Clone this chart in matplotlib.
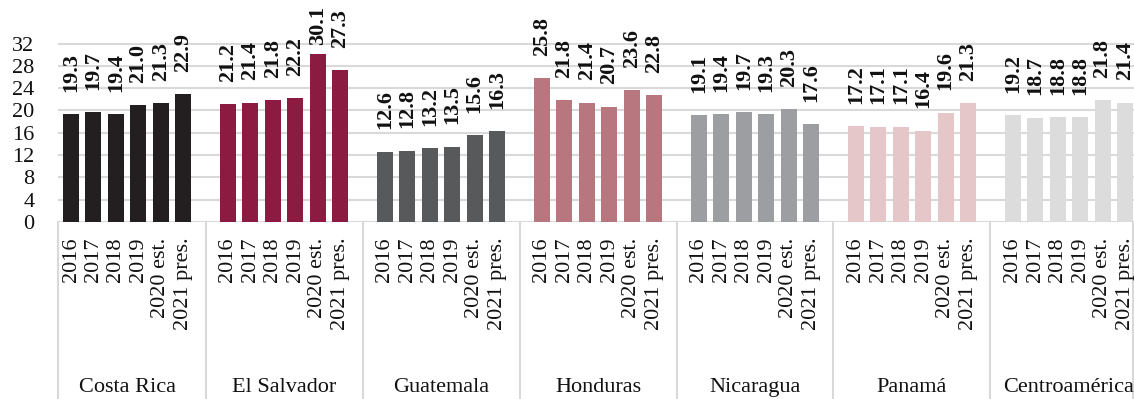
import matplotlib.pyplot as plt
from matplotlib import transforms

plt.rcParams['font.family'] = ['Liberation Serif', 'DejaVu Serif']

# Tax burden by country, 2016-2021
paises = ["Costa Rica", "El Salvador", "Guatemala", "Honduras",
          "Nicaragua", "Panamá", "Centroamérica"]
anios = ["2016", "2017", "2018", "2019", "2020 est.", "2021 pres."]

costa_rica = [19.3, 19.7, 19.4, 21.0, 21.3, 22.9]
el_salvador = [21.2, 21.4, 21.8, 22.2, 30.1, 27.3]
guatemala = [12.6, 12.8, 13.2, 13.5, 15.6, 16.3]
honduras = [25.8, 21.8, 21.4, 20.7, 23.6, 22.8]
nicaragua = [19.1, 19.4, 19.7, 19.3, 20.3, 17.6]
panama = [17.2, 17.1, 17.1, 16.4, 19.6, 21.3]
centroamerica = [19.2, 18.7, 18.8, 18.8, 21.8, 21.4]

series = [costa_rica, el_salvador, guatemala, honduras, nicaragua, panama, centroamerica]
colores = ["#231f20", "#8b1b41", "#58595b", "#b8767e", "#9d9ea1", "#e6c7c9", "#dcdcdd"]

fig = plt.figure(figsize=(11.34, 3.99), dpi=100)
ax = fig.add_axes([58 / 1134, 177 / 399, 1076 / 1134, 222 / 399])

slot = len(anios) + 1
grid_c = "#d9d9d9"

xticks = []
xlabels = []
etiquetas = []
for g, (vals, col) in enumerate(zip(series, colores)):
    xs = [g * slot + j for j in range(len(vals))]
    ax.bar(xs, vals, width=0.71, color=col, zorder=2)
    for x, v in zip(xs, vals):
        t = ax.annotate(f"{v:.1f}", (x, v), xytext=(0, 16), textcoords="offset points",
                        rotation=90, ha="center", va="bottom", fontsize=16,
                        fontweight="bold", color="#111111")
        etiquetas.append(t)
    xticks += xs
    xlabels += anios

ax.set_xlim(-0.58, 47.4)
ax.set_ylim(0, 39.8)
ax.set_yticks(range(0, 33, 4))
ax.set_xticks(xticks)
ax.set_xticklabels(xlabels, rotation=90, va="top", ha="center")
ax.tick_params(axis="both", length=0, labelsize=16, colors="#111111")
ax.tick_params(axis="x", pad=11)
ax.tick_params(axis="y", pad=17)

for y in range(0, 33, 4):
    ax.axhline(y, color=grid_c, lw=1.5, zorder=1)

for s in ax.spines.values():
    s.set_visible(False)

# group separators below the baseline
trans = transforms.blended_transform_factory(ax.transData, ax.transAxes)
seps = [-0.58] + [g * slot - 1 for g in range(1, len(paises))] + [47.35]
for x in seps:
    ax.plot([x, x], [0, -0.8], transform=trans, color=grid_c, lw=1.5,
            clip_on=False, zorder=1)

for g, nombre in enumerate(paises):
    ax.text(g * slot + 2.5, -0.745, nombre, transform=trans, ha="center",
            va="center", fontsize=16, color="#111111")

# pull down value labels that would run off the top edge
fig.canvas.draw()
r = fig.canvas.get_renderer()
limite = fig.bbox.height - 6
for t in etiquetas:
    bb = t.get_window_extent(r)
    if bb.y1 > limite:
        dx, dy = t.xyann
        t.xyann = (dx, dy - (bb.y1 - limite) * 72 / fig.dpi)

fig.savefig("out.png", dpi=100)
